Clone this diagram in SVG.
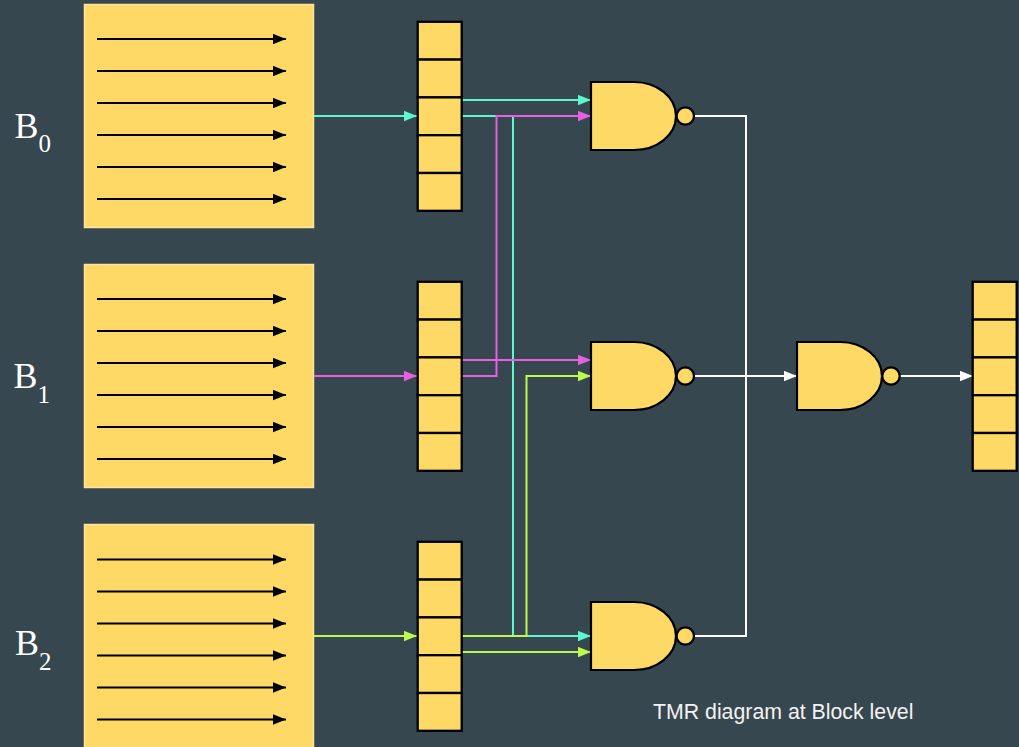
<svg xmlns="http://www.w3.org/2000/svg" width="1019" height="747" viewBox="0 0 1019 747">
<style>
.blk{fill:#ffd966;stroke:#ffe49c;stroke-width:1.500}
.cell{fill:#ffd966;stroke:#000;stroke-width:2.300}
.gate{fill:#ffd966;stroke:#000;stroke-width:2.200}
.in{stroke:#000;stroke-width:2;fill:none;marker-end:url(#ak)}
.w{fill:none;stroke-width:2}
.t{stroke:#5ef5cf;marker-end:url(#at)}
.m{stroke:#e85fe0;marker-end:url(#am)}
.l{stroke:#bdf94f;marker-end:url(#al)}
.v{stroke:#fff}
.va{marker-end:url(#av)}
.lab{font-family:"Liberation Serif",serif;fill:#fff;font-size:36px}
.sub{font-size:25px}
.cap{font-family:"Liberation Sans",Arial,sans-serif;fill:#f3f3f3;font-size:21.300px}
</style>
<defs>
<marker id="ak" markerUnits="userSpaceOnUse" markerWidth="13" markerHeight="11" refX="13" refY="5.500" orient="auto"><path d="M0 .3L13 5.500L0 10.700z" fill="#000"/></marker>
<marker id="at" markerUnits="userSpaceOnUse" markerWidth="13" markerHeight="11" refX="13" refY="5.500" orient="auto"><path d="M0 .3L13 5.500L0 10.700z" fill="#5ef5cf"/></marker>
<marker id="am" markerUnits="userSpaceOnUse" markerWidth="13" markerHeight="11" refX="13" refY="5.500" orient="auto"><path d="M0 .3L13 5.500L0 10.700z" fill="#e85fe0"/></marker>
<marker id="al" markerUnits="userSpaceOnUse" markerWidth="13" markerHeight="11" refX="13" refY="5.500" orient="auto"><path d="M0 .3L13 5.500L0 10.700z" fill="#bdf94f"/></marker>
<marker id="av" markerUnits="userSpaceOnUse" markerWidth="13" markerHeight="11" refX="13" refY="5.500" orient="auto"><path d="M0 .3L13 5.500L0 10.700z" fill="#fff"/></marker>
</defs>
<rect width="1019" height="747" fill="#37474f"/>

<g id="block-0">
<rect class="blk" x="84.500" y="4.500" width="229" height="223"/>
<path class="in" d="M97 39H286"/><path class="in" d="M97 71H286"/><path class="in" d="M97 103H286"/><path class="in" d="M97 135H286"/><path class="in" d="M97 167H286"/><path class="in" d="M97 199H286"/>
<text class="lab" x="14.500" y="138">B<tspan class="sub" dy="14">0</tspan></text>
</g>
<g id="block-1">
<rect class="blk" x="84.500" y="264.500" width="229" height="223"/>
<path class="in" d="M97 299H286"/><path class="in" d="M97 331H286"/><path class="in" d="M97 363H286"/><path class="in" d="M97 395H286"/><path class="in" d="M97 427H286"/><path class="in" d="M97 459H286"/>
<text class="lab" x="13.500" y="388">B<tspan class="sub" dy="15">1</tspan></text>
</g>
<g id="block-2">
<rect class="blk" x="84.500" y="524.500" width="229" height="223"/>
<path class="in" d="M97 559.500H286"/><path class="in" d="M97 591.500H286"/><path class="in" d="M97 623.500H286"/><path class="in" d="M97 655.500H286"/><path class="in" d="M97 687.500H286"/><path class="in" d="M97 719.500H286"/>
<text class="lab" x="15" y="655">B<tspan class="sub" dy="15">2</tspan></text>
</g>

<g id="connectors">
<path class="w t" d="M314 116H417"/>
<path class="w m" d="M314 376H417"/>
<path class="w l" d="M314 636H417"/>
<path class="w t" d="M462 100H591"/>
<path class="w t" d="M462 116H513V636H591"/>
<path class="w m" d="M462 376H496.500V116H591"/>
<path class="w m" d="M462 360H591"/>
<path class="w l" d="M462 636H526.500V376H591"/>
<path class="w l" d="M462 652H591"/>
<path class="w v" d="M694 116H746V636H694"/>
<path class="w v va" d="M694 376H797"/>
<path class="w v va" d="M900 376H973"/>
</g>

<g id="register-0">
<rect class="cell" x="417.700" y="21.800" width="44" height="37.800"/><rect class="cell" x="417.700" y="59.600" width="44" height="37.800"/><rect class="cell" x="417.700" y="97.400" width="44" height="37.800"/><rect class="cell" x="417.700" y="135.200" width="44" height="37.800"/><rect class="cell" x="417.700" y="173" width="44" height="37.800"/>
</g>
<g id="register-1">
<rect class="cell" x="417.700" y="281.800" width="44" height="37.800"/><rect class="cell" x="417.700" y="319.600" width="44" height="37.800"/><rect class="cell" x="417.700" y="357.400" width="44" height="37.800"/><rect class="cell" x="417.700" y="395.200" width="44" height="37.800"/><rect class="cell" x="417.700" y="433" width="44" height="37.800"/>
</g>
<g id="register-2">
<rect class="cell" x="417.700" y="541.800" width="44" height="37.800"/><rect class="cell" x="417.700" y="579.600" width="44" height="37.800"/><rect class="cell" x="417.700" y="617.400" width="44" height="37.800"/><rect class="cell" x="417.700" y="655.200" width="44" height="37.800"/><rect class="cell" x="417.700" y="693" width="44" height="37.800"/>
</g>
<g id="register-out">
<rect class="cell" x="972.700" y="281.800" width="44" height="37.800"/><rect class="cell" x="972.700" y="319.600" width="44" height="37.800"/><rect class="cell" x="972.700" y="357.400" width="44" height="37.800"/><rect class="cell" x="972.700" y="395.200" width="44" height="37.800"/><rect class="cell" x="972.700" y="433" width="44" height="37.800"/>
</g>

<g id="gate-0"><path class="gate" d="M591 82H634A42 34 0 0 1 634 150H591Z"/><circle class="gate" cx="685.300" cy="116" r="8.700"/></g>
<g id="gate-1"><path class="gate" d="M591 342H634A42 34 0 0 1 634 410H591Z"/><circle class="gate" cx="685.300" cy="376" r="8.700"/></g>
<g id="gate-2"><path class="gate" d="M591 602H634A42 34 0 0 1 634 670H591Z"/><circle class="gate" cx="685.300" cy="636" r="8.700"/></g>
<g id="gate-voter"><path class="gate" d="M797 342H840A42 34 0 0 1 840 410H797Z"/><circle class="gate" cx="891" cy="376" r="8.700"/></g>

<text class="cap" x="653" y="719">TMR diagram at Block level</text>
</svg>
